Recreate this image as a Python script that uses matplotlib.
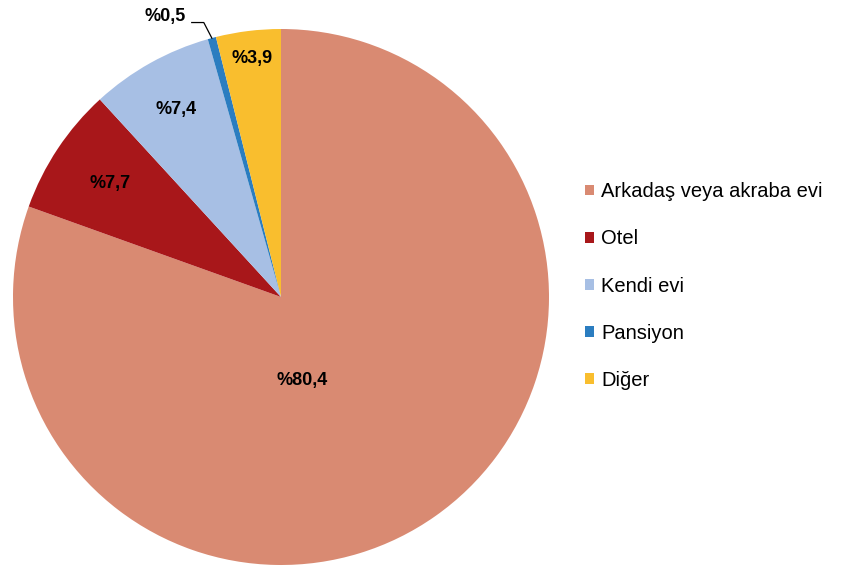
import numpy as np
import matplotlib
matplotlib.use("Agg")
import matplotlib.pyplot as plt

plt.rcParams['font.family'] = ['Liberation Sans', 'DejaVu Sans']

categories = ["Arkadaş veya akraba evi", "Otel", "Kendi evi", "Pansiyon", "Diğer"]
values = [80.4, 7.7, 7.4, 0.5, 3.9]
value_labels = ["%80,4", "%7,7", "%7,4", "%0,5", "%3,9"]
colors = ["#D98A72", "#A8171A", "#A7BFE4", "#2B7DC0", "#F9BE2E"]

W, H = 850, 580
fig = plt.figure(figsize=(W / 100, H / 100), dpi=100)
cx, cy, r = 281, 297, 268
ax = fig.add_axes([(cx - r) / W, (H - cy - r) / H, 2 * r / W, 2 * r / H])

wedges, _ = ax.pie(values, colors=colors, startangle=90, counterclock=False,
                   radius=1.0, wedgeprops=dict(linewidth=0))
ax.set_xlim(-1, 1)
ax.set_ylim(-1, 1)
ax.set_aspect('equal')
ax.axis('off')

fs = 13
# label distances from centre (fraction of radius)
dists = [None, 0.765, 0.80, None, 0.895]
for w, lab, d in zip(wedges, value_labels, dists):
    mid = np.deg2rad((w.theta1 + w.theta2) / 2)
    if d is not None:
        ax.text(d * np.cos(mid), d * np.sin(mid), lab, ha='center', va='center',
                fontsize=fs, fontweight='bold', color='black')

# big slice label
ax.text(0.08, -0.31, value_labels[0], ha='center', va='center',
        fontsize=fs, fontweight='bold', color='black')

# small slice label with leader line
w = wedges[3]
mid = np.deg2rad((w.theta1 + w.theta2) / 2)
ex, ey = np.cos(mid), np.sin(mid)
elbow = (ex - 0.03, ey + 0.058)
hend = (elbow[0] - 0.045, elbow[1])
ax.plot([ex, elbow[0], hend[0]], [ey, elbow[1], hend[1]], color='black',
        lw=0.9, clip_on=False)
ax.text(hend[0] - 0.022, hend[1] + 0.024, value_labels[3], ha='right', va='center',
        fontsize=fs, fontweight='bold', color='black', clip_on=False)

leg = fig.legend(wedges, categories, loc='center left',
                 bbox_to_anchor=(585 / W, 1 - 286 / H), frameon=False,
                 fontsize=14.5, handlelength=0.45, handleheight=0.45,
                 handletextpad=0.35, labelspacing=1.4, borderpad=0,
                 borderaxespad=0)

fig.savefig("out.png", dpi=100, facecolor='white')
